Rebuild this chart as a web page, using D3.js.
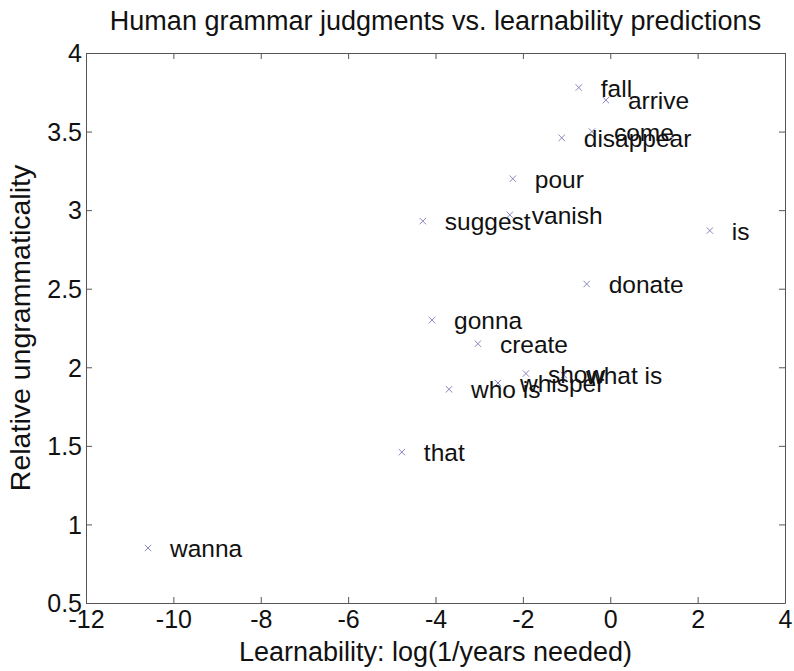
<!DOCTYPE html>
<html>
<head>
<meta charset="utf-8">
<script src="https://cdn.jsdelivr.net/npm/d3@7"></script>
<style>
  body { margin: 0; background: #fff; }
  text { font-family: "Liberation Sans", Arial, sans-serif; fill: #111; }
</style>
</head>
<body>
<div id="chart"></div>
<script>
// words and their (learnability, ungrammaticality) values
const words = ["wanna", "that", "who is", "whisper", "show", "what is", "create", "gonna",
    "donate", "is", "suggest", "vanish", "pour", "disappear", "come", "arrive", "fall"];
const learnability = [-10.58, -4.77, -3.69, -2.57, -1.93, -1.06, -3.03, -4.08,
    -0.54, 2.28, -4.29, -2.30, -2.23, -1.11, -0.42, -0.10, -0.72];
const ungrammaticality = [0.85, 1.46, 1.86, 1.90, 1.96, 1.95, 2.15, 2.30,
    2.53, 2.87, 2.93, 2.97, 3.20, 3.46, 3.50, 3.70, 3.78];

const xTicks = [-12, -10, -8, -6, -4, -2, 0, 2, 4];
const yTicks = [0.5, 1, 1.5, 2, 2.5, 3, 3.5, 4];

let width = 794,
    height = 671;
let margin = {top: 53, right: 9, bottom: 68, left: 86};

let x = d3.scaleLinear().domain([-12, 4]).range([margin.left, width - margin.right]);
let y = d3.scaleLinear().domain([0.5, 4]).range([height - margin.bottom, margin.top]);

let svg = d3.select("#chart").append("svg")
    .attr("width", width)
    .attr("height", height);

let axisColor = "#555";
let tickFont = 25,
    wordFont = 24.5,
    labelFont = 27;

// plain hyphen minus, as in the original figure
let fmt = function (d) { return String(d); };

// box axes with inward ticks on all four sides
let xBottom = svg.append("g")
    .attr("transform", "translate(0," + y(0.5) + ")")
    .call(d3.axisBottom(x).tickValues(xTicks).tickSizeInner(-6).tickSizeOuter(0).tickPadding(7).tickFormat(fmt));
let xTop = svg.append("g")
    .attr("transform", "translate(0," + y(4) + ")")
    .call(d3.axisTop(x).tickValues(xTicks).tickSizeInner(-6).tickSizeOuter(0).tickFormat(""));
let yLeft = svg.append("g")
    .attr("transform", "translate(" + x(-12) + ",0)")
    .call(d3.axisLeft(y).tickValues(yTicks).tickSizeInner(-6).tickSizeOuter(0).tickPadding(4).tickFormat(fmt));
let yRight = svg.append("g")
    .attr("transform", "translate(" + x(4) + ",0)")
    .call(d3.axisRight(y).tickValues(yTicks).tickSizeInner(-6).tickSizeOuter(0).tickFormat(""));

[xBottom, xTop, yLeft, yRight].forEach(function (g) {
    g.selectAll("path, line").attr("stroke", axisColor);
    g.selectAll("text")
        .style("font-family", "'Liberation Sans', Arial, sans-serif")
        .style("font-size", tickFont + "px")
        .attr("fill", "#111");
});
xBottom.selectAll("text").attr("dy", "0.71em");
yLeft.selectAll("text").attr("dy", "0.35em");

// the markers
let pts = words.map(function (w, i) {
    return {word: w, lx: learnability[i], uy: ungrammaticality[i]};
});

let s = 3.2;
svg.append("g").selectAll("path")
    .data(pts)
    .enter().append("path")
    .attr("d", function (d) {
        let px = x(d.lx), py = y(d.uy);
        return "M" + (px - s) + "," + (py - s) + "L" + (px + s) + "," + (py + s) +
            "M" + (px - s) + "," + (py + s) + "L" + (px + s) + "," + (py - s);
    })
    .attr("stroke", "#8686c0")
    .attr("stroke-width", 1)
    .attr("fill", "none");

// word labels to the right of each marker
svg.append("g").selectAll("text")
    .data(pts)
    .enter().append("text")
    .attr("x", function (d) { return x(d.lx) + 22; })
    .attr("y", function (d) { return y(d.uy) + 9; })
    .style("font-size", wordFont + "px")
    .text(function (d) { return d.word; });

// title and axis labels
svg.append("text")
    .attr("x", (x(-12) + x(4)) / 2)
    .attr("y", 30)
    .attr("text-anchor", "middle")
    .style("font-size", labelFont + "px")
    .text("Human grammar judgments vs. learnability predictions");

svg.append("text")
    .attr("x", (x(-12) + x(4)) / 2)
    .attr("y", 661)
    .attr("text-anchor", "middle")
    .style("font-size", labelFont + "px")
    .text("Learnability: log(1/years needed)");

svg.append("text")
    .attr("transform", "translate(30," + ((y(0.5) + y(4)) / 2) + ") rotate(-90)")
    .attr("text-anchor", "middle")
    .style("font-size", "28.5px")
    .text("Relative ungrammaticality");
</script>
</body>
</html>
